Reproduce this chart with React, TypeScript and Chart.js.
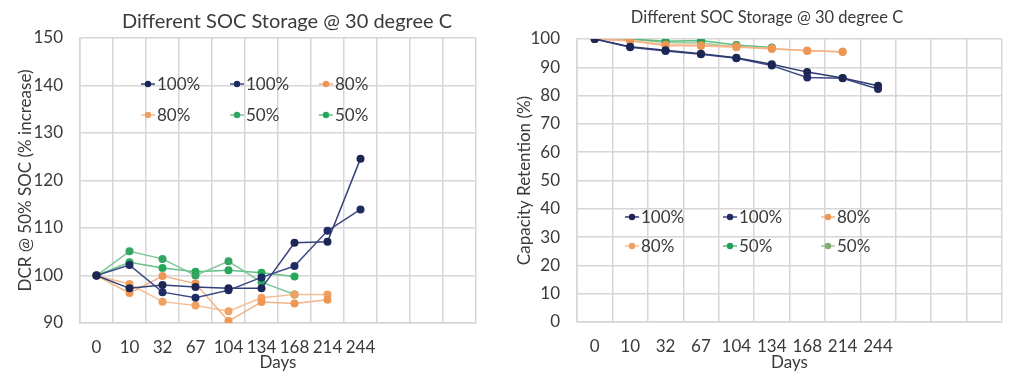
import React, { useEffect, useRef } from 'react';
import { Chart, registerables } from 'chart.js';

Chart.register(...registerables);

// ---- data ----
const DAYS = ['0', '10', '32', '67', '104', '134', '168', '214', '244', '', '', ''];
const SERIES_LABELS = ['100%', '100%', '80%', '80%', '50%', '50%'];
const CHART_TITLE = 'Different SOC Storage @ 30 degree C';

// Left: DCR @ 50% SOC (% increase)
const DCR_100_A = [100, 97.3, 98.0, 97.6, 97.3, 97.3, 106.9, 107.1, 124.6];
const DCR_100_B = [100, 102.2, 96.5, 95.3, 96.9, 99.6, 102.0, 109.4, 113.9];
const DCR_80_A = [100, 96.3, 99.9, 98.3, 90.4, 94.4, 94.1, 94.9];
const DCR_80_B = [100, 98.2, 94.5, 93.7, 92.5, 95.3, 96.0, 96.0];
const DCR_50_A = [100, 105.1, 103.5, 100.0, 103.0, 98.6, 96.0];
const DCR_50_B = [100, 102.8, 101.6, 100.8, 101.1, 100.6, 99.8];

// Right: Capacity Retention (%)
const CAP_100_A = [100, 97.3, 96.0, 94.8, 93.4, 91.1, 88.3, 86.2, 83.5];
const CAP_100_B = [100, 97.1, 95.8, 94.6, 93.2, 90.6, 86.4, 86.1, 82.3];
const CAP_80_A = [100, 99.5, 98.0, 97.8, 97.4, 96.5, 95.9, 95.4];
const CAP_80_B = [100, 99.3, 97.6, 97.5, 97.1, 96.7, 95.8, 95.6];
const CAP_50_A = [100, 100, 99.2, 99.5, 97.9, 97.0];
const CAP_50_B = [100, 100, 98.8, 98.6, 97.2, 96.7];

const FONT = 'Lato, "Open Sans", sans-serif';
const TEXT = '#3a3a3a';
const GRID = '#d6d6d6';

const LEFT_COLORS = [
  { point: '#1c2654', line: '#34407a' },
  { point: '#1f2b63', line: '#404c88' },
  { point: '#ee9653', line: '#f3b387' },
  { point: '#f0a060', line: '#f5bf95' },
  { point: '#34a464', line: '#7cc596' },
  { point: '#26a85a', line: '#64c086' },
];
const RIGHT_COLORS = [
  { point: '#1c2654', line: '#2e3a70' },
  { point: '#1f2b63', line: '#3d4984' },
  { point: '#ee9653', line: '#f3b387' },
  { point: '#f0a060', line: '#f5bf95' },
  { point: '#22a055', line: '#5cbd80' },
  { point: '#7fae6e', line: '#a2c896' },
];

const insideLegend = {
  id: 'insideLegend',
  afterDraw(chart: any, _args: any, opts: any) {
    const { ctx, chartArea } = chart;
    ctx.save();
    ctx.font = `${opts.fontSize}px ${FONT}`;
    ctx.textBaseline = 'middle';
    ctx.textAlign = 'left';
    chart.data.datasets.forEach((ds: any, i: number) => {
      const col = i % opts.cols;
      const row = Math.floor(i / opts.cols);
      const cx = chartArea.left + opts.x + col * opts.colGap;
      const cy = chartArea.top + opts.y + row * opts.rowGap;
      ctx.strokeStyle = ds.borderColor;
      ctx.lineWidth = 1.5;
      ctx.beginPath();
      ctx.moveTo(cx - 7, cy);
      ctx.lineTo(cx + 7, cy);
      ctx.stroke();
      ctx.fillStyle = ds.pointBackgroundColor;
      ctx.beginPath();
      ctx.arc(cx, cy, 3.2, 0, Math.PI * 2);
      ctx.fill();
      ctx.fillStyle = TEXT;
      ctx.fillText(ds.label, cx + 9, cy + 1);
    });
    ctx.restore();
  },
};

const posTitle = {
  id: 'posTitle',
  afterDraw(chart: any, _args: any, opts: any) {
    const { ctx } = chart;
    ctx.save();
    ctx.font = `${opts.fontSize}px ${FONT}`;
    ctx.fillStyle = TEXT;
    ctx.textAlign = 'center';
    ctx.textBaseline = 'middle';
    ctx.fillText(opts.text, opts.x, opts.y);
    ctx.restore();
  },
};

function makeConfig(p: any) {
  const datasets = p.series.map((values: number[], i: number) => ({
    label: SERIES_LABELS[i],
    data: values,
    borderColor: p.colors[i].line,
    backgroundColor: p.colors[i].point,
    pointBackgroundColor: p.colors[i].point,
    pointBorderColor: p.colors[i].point,
    pointRadius: 4,
    pointBorderWidth: 0,
    borderWidth: 1.5,
    tension: 0,
    fill: false,
  }));
  return {
    type: 'line',
    data: { labels: DAYS, datasets },
    plugins: [insideLegend, posTitle],
    options: {
      responsive: false,
      animation: false,
      events: [],
      layout: { padding: p.padding },
      plugins: {
        legend: { display: false },
        title: { display: false },
        tooltip: { enabled: false },
        insideLegend: p.legend,
        posTitle: p.title,
      },
      scales: {
        x: {
          type: 'category',
          offset: true,
          grid: { offset: true, color: GRID, lineWidth: 1.5, drawTicks: false },
          border: { color: GRID, width: 1.5 },
          ticks: { color: TEXT, font: { family: FONT, size: 17 }, padding: 14, maxRotation: 0, autoSkip: false },
          title: { display: true, text: 'Days', color: TEXT, font: { family: FONT, size: 17 }, padding: { top: 0, bottom: 6 } },
          afterFit: (s: any) => { s.height = p.xHeight; },
        },
        y: {
          min: p.yMin,
          max: p.yMax,
          grid: { color: GRID, lineWidth: 1.5, drawTicks: false },
          border: { color: GRID, width: 1.5 },
          ticks: { stepSize: 10, color: TEXT, font: { family: FONT, size: 17 }, padding: p.yTickPad },
          title: { display: true, text: p.yTitle, color: TEXT, font: { family: FONT, size: 17 }, padding: { top: p.yTitlePad, bottom: 0 } },
          afterFit: (s: any) => { s.width = p.yWidth; },
        },
      },
    },
  };
}

function ChartCanvas({ left, width, height, config }: any) {
  const ref = useRef<HTMLCanvasElement>(null);
  useEffect(() => {
    const chart = new Chart(ref.current as HTMLCanvasElement, config);
    return () => chart.destroy();
  }, []);
  return (
    <canvas
      ref={ref}
      width={width}
      height={height}
      style={{ position: 'absolute', left, top: 0, width, height }}
    />
  );
}

export default function App() {
  const leftConfig = makeConfig({
    series: [DCR_100_A, DCR_100_B, DCR_80_A, DCR_80_B, DCR_50_A, DCR_50_B],
    colors: LEFT_COLORS,
    padding: { top: 38, right: 24, bottom: 0, left: 0 },
    yMin: 90,
    yMax: 150,
    yTitle: 'DCR @ 50% SOC (% increase)',
    yTitlePad: 15,
    yTickPad: 17,
    yWidth: 80,
    xHeight: 56,
    legend: { fontSize: 17, cols: 3, x: 68, colGap: 89, y: 46, rowGap: 31 },
    title: { text: CHART_TITLE, x: 287, y: 22, fontSize: 20 },
  });
  const rightConfig = makeConfig({
    series: [CAP_100_A, CAP_100_B, CAP_80_A, CAP_80_B, CAP_50_A, CAP_50_B],
    colors: RIGHT_COLORS,
    padding: { top: 39, right: 12, bottom: 0, left: 0 },
    yMin: 0,
    yMax: 100,
    yTitle: 'Capacity Retention (%)',
    yTitlePad: 14,
    yTickPad: 17,
    yWidth: 77,
    xHeight: 57,
    legend: { fontSize: 17, cols: 3, x: 55, colGap: 98, y: 178, rowGap: 29 },
    title: { text: CHART_TITLE, x: 267, y: 18, fontSize: 16.5 },
  });
  return (
    <div style={{ position: 'fixed', left: 0, top: 0, width: 1014, height: 379, background: '#ffffff' }}>
      <ChartCanvas left={0} width={500} height={379} config={leftConfig} />
      <ChartCanvas left={500} width={514} height={379} config={rightConfig} />
    </div>
  );
}
